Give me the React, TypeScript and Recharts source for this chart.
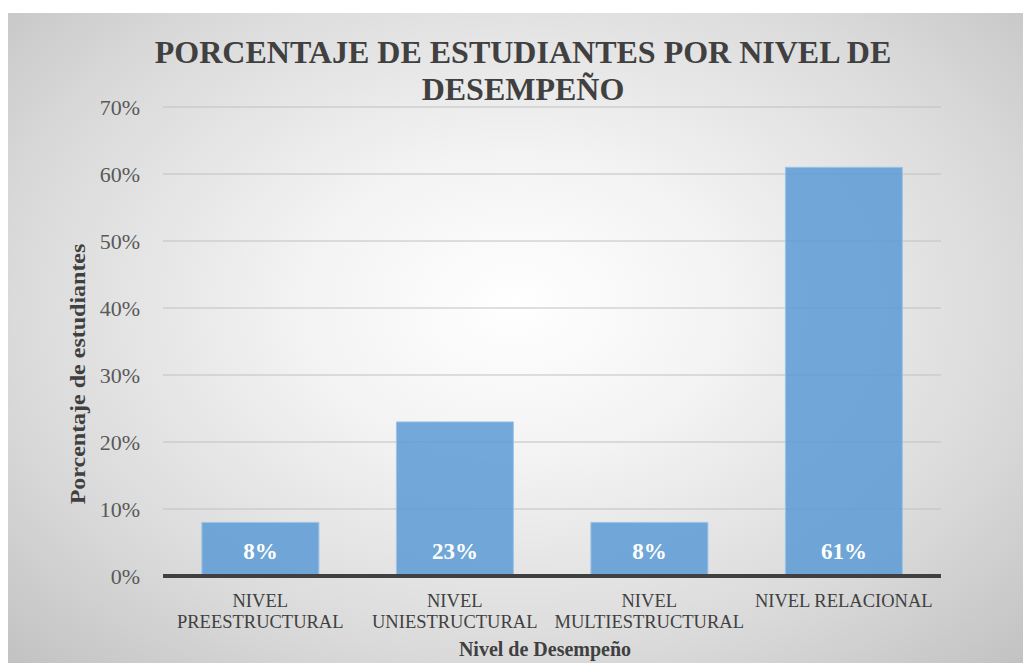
import React from "react";
import { BarChart, Bar, XAxis, YAxis, CartesianGrid, LabelList, Customized } from "recharts";

const categories = ["NIVEL PREESTRUCTURAL", "NIVEL UNIESTRUCTURAL", "NIVEL MULTIESTRUCTURAL", "NIVEL RELACIONAL"];
const tickLines = [["NIVEL", "PREESTRUCTURAL"], ["NIVEL", "UNIESTRUCTURAL"], ["NIVEL", "MULTIESTRUCTURAL"], ["NIVEL RELACIONAL"]];
const percentages = [8, 23, 8, 61];
const yTicks = [0, 10, 20, 30, 40, 50, 60, 70];
const titleLines = ["PORCENTAJE DE ESTUDIANTES POR NIVEL DE", "DESEMPEÑO"];
const yAxisTitle = "Porcentaje de estudiantes";
const xAxisTitle = "Nivel de Desempeño";

const data = categories.map((c, i) => ({ name: c, value: percentages[i] }));

const FONT = '"Liberation Serif", "Times New Roman", serif';

const XTick = (props: any) => {
  const { x, y, index } = props;
  const lines = tickLines[index] || [];
  return (
    <g>
      {lines.map((l, i) => (
        <text key={i} x={x} y={y + 31 + i * 21} textAnchor="middle" fontFamily={FONT} fontSize={18.5} fill="#404040">
          {l}
        </text>
      ))}
    </g>
  );
};

const YTick = (props: any) => {
  const { x, y, payload } = props;
  return (
    <text x={x - 23} y={y + 8} textAnchor="end" fontFamily={FONT} fontSize={22} fill="#595959">
      {payload.value + "%"}
    </text>
  );
};

const BarLabel = (props: any) => {
  const { x, y, width, height, value } = props;
  return (
    <text x={x + width / 2} y={y + height - 17} textAnchor="middle" fontFamily={FONT} fontWeight="bold" fontSize={23} fill="#ffffff">
      {value + "%"}
    </text>
  );
};

const Titles = () => (
  <g>
    {titleLines.map((t, i) => (
      <text key={i} x={515} y={50 + i * 37} textAnchor="middle" fontFamily={FONT} fontWeight="bold" fontSize={32} fill="#404040">
        {t}
      </text>
    ))}
    <text
      transform="translate(77,361) rotate(-90) scale(1.2,1)"
      x={0}
      y={0}
      textAnchor="middle"
      fontFamily={FONT}
      fontWeight="bold"
      fontSize={20}
      fill="#404040"
    >
      {yAxisTitle}
    </text>
    <text x={537} y={643} textAnchor="middle" fontFamily={FONT} fontWeight="bold" fontSize={20} fill="#404040">
      {xAxisTitle}
    </text>
  </g>
);

export default function App() {
  return (
    <div
      style={{
        position: "absolute",
        left: 8,
        top: 13,
        width: 1015,
        height: 650,
        background: "radial-gradient(ellipse farthest-corner at 50% 45%, #ffffff 0%, #f3f3f3 30%, #dadada 70%, #c2c2c2 100%)",
        overflow: "hidden",
      }}
    >
      <BarChart width={1015} height={650} data={data} margin={{ top: 94, right: 82, left: 0, bottom: 0 }} barCategoryGap="20%">
        <CartesianGrid vertical={false} stroke="#c0c0c0" strokeWidth={1} />
        <XAxis
          dataKey="name"
          height={87}
          tick={<XTick />}
          tickLine={false}
          tickSize={0}
          tickMargin={0}
          axisLine={{ stroke: "#404040", strokeWidth: 4 }}
          interval={0}
        />
        <YAxis
          width={155}
          domain={[0, 70]}
          ticks={yTicks}
          tick={<YTick />}
          tickLine={false}
          axisLine={false}
          tickSize={0}
          tickMargin={0}
          interval={0}
        />
        <Bar dataKey="value" fill="#5b9bd5" fillOpacity={0.85} stroke="#9dc3e6" strokeWidth={1} isAnimationActive={false}>
          <LabelList dataKey="value" content={<BarLabel />} />
        </Bar>
        <Customized component={<Titles />} />
      </BarChart>
    </div>
  );
}
